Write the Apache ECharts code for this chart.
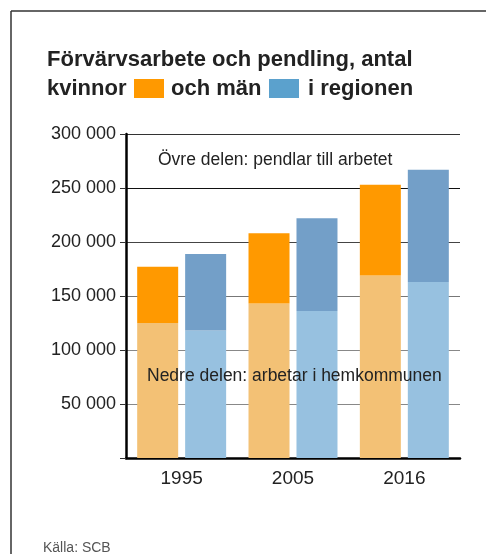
<!DOCTYPE html>
<html>
<head>
<meta charset="utf-8">
<script src="https://cdn.jsdelivr.net/npm/echarts@6/dist/echarts.min.js"></script>
<style>
  html, body { margin: 0; padding: 0; background: #fff; }
  #chart { width: 486px; height: 554px; }
</style>
</head>
<body>
<div id="chart"></div>
<script>
// år
const years = ["1995", "2005", "2016"];
// kvinnor: arbetar i hemkommunen / pendlar
const womenHome = [125000, 143000, 169000];
const womenCommute = [52000, 65000, 84000];
// män: arbetar i hemkommunen / pendlar
const menHome = [118000, 136000, 163000];
const menCommute = [71000, 86000, 104000];
// y-axelns skala
const yMax = 300000;
const yStep = 50000;

const font = "'Liberation Sans', Arial, sans-serif";

const chart = echarts.init(document.getElementById("chart"));

const fmt = (v) => {
  if (v === 0) return "";
  const s = String(v);
  return s.replace(/\B(?=(\d{3})+(?!\d))/g, " ");
};

const option = {
  animation: false,
  grid: { left: 126, right: 26, top: 134, bottom: 96 },
  xAxis: {
    type: "category",
    data: years,
    axisLine: { lineStyle: { color: "#000", width: 2.5 } },
    axisTick: { show: false },
    axisLabel: { color: "#222", fontSize: 19, fontFamily: font, margin: 11 },
  },
  yAxis: {
    type: "value",
    min: 0,
    max: yMax,
    interval: yStep,
    axisLine: { show: true, lineStyle: { color: "#000", width: 2.5 } },
    axisTick: { show: true, length: 6, lineStyle: { color: "#333" } },
    axisLabel: {
      color: "#222",
      fontSize: 18,
      fontFamily: font,
      margin: 10,
      formatter: fmt,
    },
    splitLine: {
      lineStyle: {
        color: ["#000", "#888", "#888", "#777", "#444", "#111", "#333"],
        width: 1.2,
      },
    },
  },
  series: [
    {
      name: "Kvinnor, hemkommunen",
      type: "bar",
      stack: "kvinnor",
      data: womenHome,
      barWidth: 41,
      barGap: "17%",
      itemStyle: { color: "#F3C175" },
    },
    {
      name: "Kvinnor, pendlar",
      type: "bar",
      stack: "kvinnor",
      data: womenCommute,
      barWidth: 41,
      itemStyle: { color: "#FF9900" },
    },
    {
      name: "Män, hemkommunen",
      type: "bar",
      stack: "man",
      data: menHome,
      barWidth: 41,
      barGap: "17%",
      itemStyle: { color: "#97C1E0" },
    },
    {
      name: "Män, pendlar",
      type: "bar",
      stack: "man",
      data: menCommute,
      barWidth: 41,
      itemStyle: { color: "#739FC8" },
    },
  ],
  graphic: [
    // ram
    { type: "line", shape: { x1: 11, y1: 11, x2: 486, y2: 11 }, style: { stroke: "#333", lineWidth: 1.5 } },
    { type: "line", shape: { x1: 11, y1: 11, x2: 11, y2: 554 }, style: { stroke: "#333", lineWidth: 1.5 } },
    // rubrik
    {
      type: "text", left: 47, top: 49,
      style: { text: "Förvärvsarbete och pendling, antal", fill: "#222", font: "bold 22px " + font },
    },
    {
      type: "text", left: 47, top: 78,
      style: { text: "kvinnor", fill: "#222", font: "bold 22px " + font },
    },
    { type: "rect", shape: { x: 134, y: 79, width: 30, height: 19 }, style: { fill: "#FF9900" } },
    {
      type: "text", left: 171, top: 78,
      style: { text: "och män", fill: "#222", font: "bold 22px " + font },
    },
    { type: "rect", shape: { x: 269, y: 79, width: 30, height: 19 }, style: { fill: "#5BA1CD" } },
    {
      type: "text", left: 308, top: 78,
      style: { text: "i regionen", fill: "#222", font: "bold 22px " + font },
    },
    // förklaringar
    {
      type: "text", left: 158, top: 151,
      style: { text: "Övre delen: pendlar till arbetet", fill: "#222", font: "17.5px " + font },
    },
    {
      type: "text", left: 147, top: 367,
      style: { text: "Nedre delen: arbetar i hemkommunen", fill: "#222", font: "17.5px " + font },
      z: 10,
    },
    // källa
    {
      type: "text", left: 43, top: 541,
      style: { text: "Källa: SCB", fill: "#555", font: "14px " + font },
    },
  ],
};

chart.setOption(option);
</script>
</body>
</html>
